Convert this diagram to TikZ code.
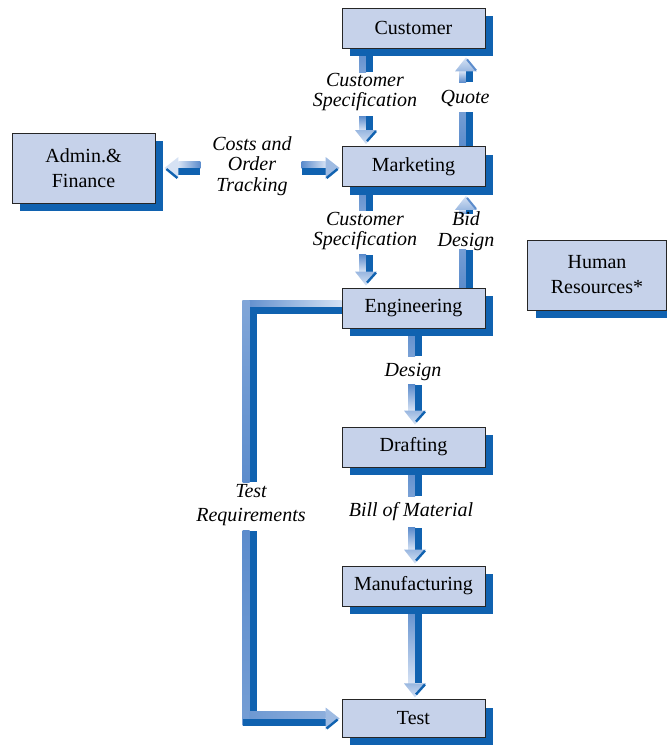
\documentclass[tikz,border=0pt]{standalone}
\usepackage{fontspec}
\setmainfont{Liberation Serif}
\usetikzlibrary{calc,shadows}
\definecolor{boxfill}{RGB}{198,210,234}
\definecolor{dkblue}{RGB}{16,98,176}
\definecolor{mdblue}{RGB}{92,140,204}
\definecolor{plblue}{RGB}{214,226,244}
\pgfdeclarelayer{bg}
\pgfsetlayers{bg,main}
\tikzset{
  box/.style={draw=black!85, line width=0.6pt, fill=boxfill,
    minimum width=107.25pt, minimum height=30pt, align=center, inner sep=0pt,
    font=\fontsize{15}{18.75}\selectfont,
    drop shadow={shadow xshift=6pt, shadow yshift=-6pt, fill=dkblue, opacity=1}},
  lbl/.style={font=\itshape\fontsize{15}{15.4}\selectfont, align=center, inner sep=0pt},
}
% vertical shaft: #1 top coordinate, #2 bottom coordinate (same x), #3 top colour, #4 bottom colour
\newcommand{\vshaft}[4]{%
  \shade[top color=#3, bottom color=#4] ($(#1)+(-7,0)$) rectangle (#2);
  \fill[dkblue] (#1) rectangle ($(#2)+(7,0)$);}
% horizontal shaft: #1 left coordinate, #2 right coordinate (same y)
\newcommand{\hshaft}[4]{%
  \shade[left color=#3, right color=#4] ($(#1)+(0,-7)$) rectangle (#2);
  \fill[dkblue] (#1) rectangle ($(#2)+(0,7)$);}
\newcommand{\arrD}[1]{%
  \shade[top color=mdblue!50!plblue, bottom color=plblue] ($(#1)+(-11,-14)$) -- (#1) -- ($(#1)+(11,-14)$) -- cycle;
  \draw[dkblue, line width=1.8pt] ($(#1)+(10,-13)$) -- ($(#1)+(1,-3)$);}
\newcommand{\arrU}[1]{%
  \shade[top color=plblue, bottom color=mdblue!50!plblue] ($(#1)+(-11,14)$) -- (#1) -- ($(#1)+(11,14)$) -- cycle;
  \draw[mdblue, line width=1.5pt] ($(#1)+(1,2)$) -- ($(#1)+(10,13)$);}
\newcommand{\arrL}[1]{%
  \fill[plblue] ($(#1)+(14,-11)$) -- (#1) -- ($(#1)+(14,11)$) -- cycle;
  \draw[dkblue, line width=1.8pt] ($(#1)+(2,1)$) -- ($(#1)+(13,10)$);}
\newcommand{\arrR}[1]{%
  \fill[mdblue!45!plblue] ($(#1)+(-14,-11)$) -- (#1) -- ($(#1)+(-14,11)$) -- cycle;
  \draw[dkblue, line width=1.8pt] ($(#1)+(-2,1)$) -- ($(#1)+(-13,10)$);}
\begin{document}
\begin{tikzpicture}[x=0.75pt, y=-0.75pt]
\useasboundingbox (0,0) rectangle (667,746);
% boxes
\node[box] (cust) at (413.5,28) {Customer};
\node[box] (mkt) at (413.5,166.5) {Marketing};
\node[box, minimum height=52.5pt] (admin) at (83.5,168) {Admin.\&\\Finance};
\node[box] (eng) at (413.5,308) {Engineering};
\node[box, minimum width=104pt, minimum height=52.5pt] (hr) at (597,275) {Human\\Resources*};
\node[box] (draft) at (413.5,447) {Drafting};
\node[box] (manu) at (413.5,586) {Manufacturing};
\node[box, minimum height=28pt] (test) at (413.5,718.5) {Test};
% labels
\node[lbl] (l1) at (365,92) {Customer\\Specification};
\node[lbl] (l2) at (465,98) {Quote};
\node[lbl] (l3) at (252,166) {Costs and\\Order\\Tracking};
\node[lbl] (l4) at (365,231) {Customer\\Specification};
\node[lbl] (l5) at (466,231) {Bid\\Design};
\node[lbl] (l6) at (413,372) {Design};
\node[lbl] (l7) at (411,512) {Bill of Material};
\node[lbl, font=\itshape\fontsize{15}{18}\selectfont] (l8) at (251,505) {Test\\Requirements};
% connector coordinates
\coordinate (a1) at ($(cust.south)+(-47.5,0)$);
\coordinate (a2) at ($(cust.south)+(-47.5,24)$);
\coordinate (a3) at ($(mkt.north)+(-47.5,-30)$);
\coordinate (a4) at ($(mkt.north)+(-47.5,-16)$);
\coordinate (a5) at ($(mkt.north)+(-47.5,-2)$);
\coordinate (q1) at ($(mkt.north)+(52.5,0)$);
\coordinate (q2) at ($(mkt.north)+(52.5,-34)$);
\coordinate (q3) at ($(cust.south)+(52.5,34)$);
\coordinate (q4) at ($(cust.south)+(52.5,23)$);
\coordinate (q5) at ($(cust.south)+(52.5,9)$);
\coordinate (c1) at ($(admin.east)+(9,0)$);
\coordinate (c2) at ($(admin.east)+(23,0)$);
\coordinate (c3) at ($(admin.east)+(45,0)$);
\coordinate (c4) at ($(mkt.west)+(-40,1.5)$);
\coordinate (c5) at ($(mkt.west)+(-16,1.5)$);
\coordinate (c6) at ($(mkt.west)+(-2,1.5)$);
\coordinate (m1) at ($(mkt.south)+(-47.5,0)$);
\coordinate (m2) at ($(mkt.south)+(-47.5,24)$);
\coordinate (m3) at ($(eng.north)+(-47.5,-33)$);
\coordinate (m4) at ($(eng.north)+(-47.5,-16)$);
\coordinate (m5) at ($(eng.north)+(-47.5,-2)$);
\coordinate (b1) at ($(eng.north)+(52.5,0)$);
\coordinate (b2) at ($(eng.north)+(52.5,-38)$);
\coordinate (b3) at ($(mkt.south)+(52.5,27)$);
\coordinate (b4) at ($(mkt.south)+(52.5,23)$);
\coordinate (b5) at ($(mkt.south)+(52.5,9)$);
\coordinate (d1) at ($(eng.south)+(1.5,0)$);
\coordinate (d2) at ($(eng.south)+(1.5,28)$);
\coordinate (d3) at ($(draft.north)+(1.5,-42)$);
\coordinate (d4) at ($(draft.north)+(1.5,-16)$);
\coordinate (d5) at ($(draft.north)+(1.5,-2)$);
\coordinate (e1) at ($(draft.south)+(1.5,0)$);
\coordinate (e2) at ($(draft.south)+(1.5,29)$);
\coordinate (e3) at ($(manu.north)+(1.5,-38)$);
\coordinate (e4) at ($(manu.north)+(1.5,-16)$);
\coordinate (e5) at ($(manu.north)+(1.5,-2)$);
\coordinate (f1) at ($(manu.south)+(1.5,0)$);
\coordinate (f4) at ($(test.north)+(1.5,-16)$);
\coordinate (f5) at ($(test.north)+(1.5,-2)$);
\coordinate (t0) at ($(eng.west)+(0,-1)$);
\coordinate (t1) at ($(eng.west)+(-92,-1)$);
\coordinate (t2) at ($(t1)+(0,175)$);
\coordinate (t3) at ($(test.west)+(-92,-188)$);
\coordinate (t4) at ($(test.west)+(-92,0)$);
\coordinate (t5) at ($(test.west)+(-16,0)$);
\coordinate (t6) at ($(test.west)+(-2,0)$);
\begin{pgfonlayer}{bg}
  % Customer -> Marketing (Customer Specification)
  \vshaft{a1}{a2}{mdblue}{mdblue!75!plblue}
  \vshaft{a3}{a4}{mdblue}{plblue}
  \arrD{a5}
  % Marketing -> Customer (Quote)
  \vshaft{q2}{q1}{mdblue!80!plblue}{mdblue}
  \vshaft{q4}{q3}{plblue}{mdblue}
  \arrU{q5}
  % Costs and Order Tracking
  \hshaft{c2}{c3}{plblue}{mdblue}
  \arrL{c1}
  \hshaft{c4}{c5}{mdblue}{plblue}
  \arrR{c6}
  % Marketing -> Engineering (Customer Specification)
  \vshaft{m1}{m2}{mdblue}{mdblue!75!plblue}
  \vshaft{m3}{m4}{mdblue}{plblue}
  \arrD{m5}
  % Engineering -> Marketing (Bid Design)
  \vshaft{b2}{b1}{mdblue!80!plblue}{mdblue}
  \vshaft{b4}{b3}{plblue}{mdblue}
  \arrU{b5}
  % Engineering -> Drafting (Design)
  \vshaft{d1}{d2}{mdblue}{mdblue!75!plblue}
  \vshaft{d3}{d4}{mdblue}{plblue}
  \arrD{d5}
  % Drafting -> Manufacturing (Bill of Material)
  \vshaft{e1}{e2}{mdblue}{mdblue!75!plblue}
  \vshaft{e3}{e4}{mdblue}{plblue}
  \arrD{e5}
  % Manufacturing -> Test
  \vshaft{f1}{f4}{mdblue}{plblue}
  \arrD{f5}
  % Engineering -> Test (Test Requirements)
  \shade[left color=mdblue, right color=plblue] ($(t1)+(-7,-7)$) rectangle (t0);
  \fill[dkblue] (t1) rectangle ($(t0)+(0,7)$);
  \shade[top color=mdblue!70!plblue, bottom color=mdblue] ($(t1)+(-7,-7)$) rectangle (t2);
  \fill[dkblue] (t1) rectangle ($(t2)+(7,0)$);
  \shade[top color=mdblue, bottom color=mdblue!80!plblue] ($(t3)+(-7,0)$) rectangle ($(t4)+(0,7)$);
  \fill[dkblue] (t3) rectangle ($(t4)+(7,-7)$);
  \shade[left color=mdblue!85!plblue, right color=mdblue!60!plblue] ($(t4)+(0,-7)$) rectangle (t5);
  \fill[dkblue] ($(t4)+(-7,0)$) rectangle ($(t5)+(0,7)$);
  \arrR{t6}
\end{pgfonlayer}
\end{tikzpicture}
\end{document}
